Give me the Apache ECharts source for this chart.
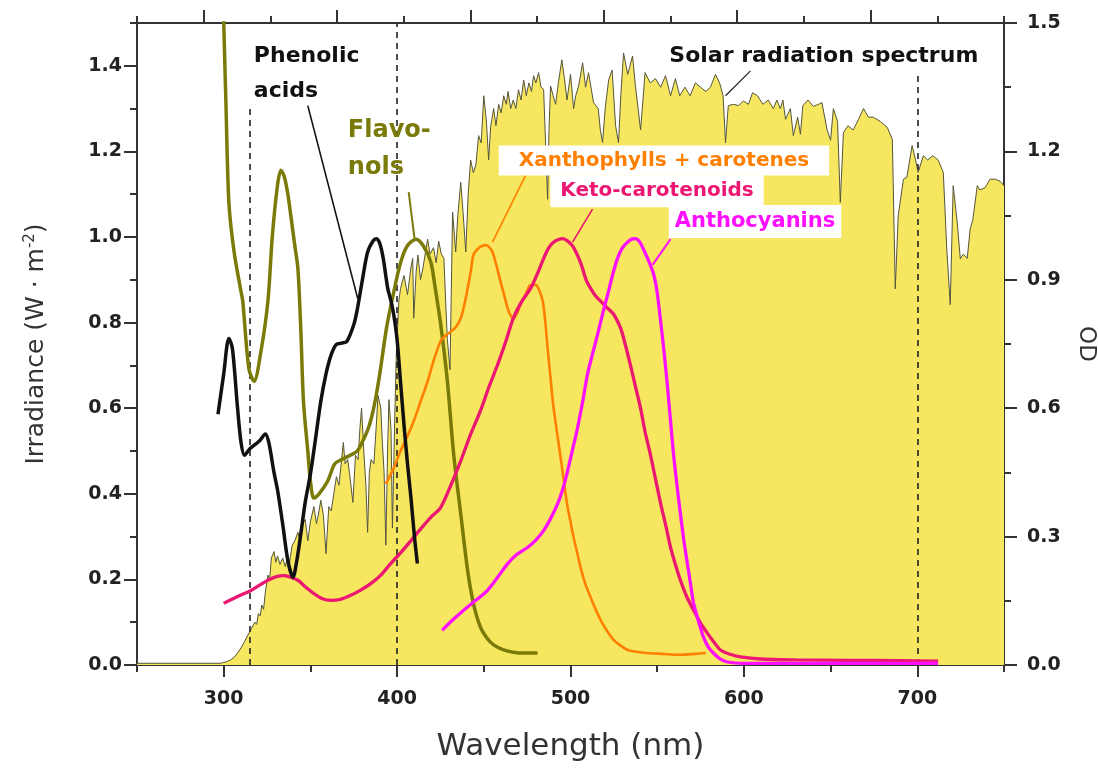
<!DOCTYPE html>
<html><head><meta charset="utf-8">
<script src="https://cdn.jsdelivr.net/npm/echarts@6/dist/echarts.min.js"></script>
<style>html,body{margin:0;padding:0;background:#fff}#c{width:1098px;height:772px}</style>
</head><body><div id="c"></div>
<script>
// ---- data (wavelength nm, value) ----
const solarSpectrum = [[250,0.004],[298,0.004],[300,0.006],[302,0.008],[304,0.012],[306,0.018],[308,0.028],[310,0.04],[312,0.055],[314,0.07],[316,0.085],[318,0.10],[319,0.095],[320,0.12],[321,0.115],[322,0.14],[323,0.13],[324,0.17],[325.5,0.21],[326.5,0.2],[327.5,0.25],[329,0.265],[330,0.24],[331,0.255],[332.5,0.235],[334,0.25],[335.5,0.23],[337,0.255],[338,0.24],[339.5,0.28],[341,0.29],[342.8,0.31],[344,0.29],[345.5,0.33],[347,0.34],[348.5,0.29],[350,0.335],[352,0.37],[353.5,0.33],[355,0.36],[356,0.385],[357.5,0.35],[359,0.26],[360.6,0.37],[362,0.36],[363.5,0.40],[365,0.44],[366.5,0.42],[367.5,0.46],[369,0.52],[370,0.47],[371.5,0.48],[372.5,0.45],[374.5,0.38],[376,0.49],[377.5,0.48],[378.5,0.55],[379.5,0.60],[380.8,0.50],[382,0.42],[383,0.31],[384,0.45],[385,0.48],[386.6,0.47],[388,0.56],[389,0.63],[390.6,0.60],[391.5,0.52],[392.5,0.45],[393.5,0.28],[394.5,0.5],[395.3,0.62],[396.5,0.55],[397.3,0.32],[398.5,0.55],[399.5,0.72],[401,0.85],[402,0.88],[404,0.91],[406,0.865],[408,0.93],[409,0.95],[409.6,0.81],[411,0.92],[412,0.958],[413.5,0.90],[415,0.93],[417.6,0.995],[419,0.96],[421,0.975],[422.5,0.94],[424,0.99],[425.5,0.96],[427,0.95],[428,0.85],[429,0.76],[430.5,0.69],[432,1.058],[433.8,0.965],[435,1.05],[436.7,1.128],[438,1.06],[439.6,0.965],[441,1.10],[442.4,1.18],[444,1.15],[445.5,1.17],[447,1.237],[448.5,1.22],[450,1.33],[451.5,1.27],[452.8,1.18],[454,1.26],[455.7,1.30],[457,1.26],[458.6,1.31],[460,1.29],[461.5,1.33],[463,1.31],[464,1.34],[465.5,1.30],[467,1.32],[468.5,1.30],[470,1.344],[471.5,1.32],[473,1.367],[474.5,1.33],[476,1.36],[477.5,1.34],[478.7,1.377],[480,1.36],[481.6,1.384],[483,1.35],[484.5,1.345],[485.8,1.2],[486.8,1.088],[487.6,1.25],[488.5,1.353],[490,1.33],[491.4,1.31],[493,1.36],[495,1.414],[496.5,1.37],[498,1.32],[500,1.38],[501.8,1.30],[503,1.33],[504.7,1.353],[507,1.407],[508.7,1.35],[510.4,1.384],[513.3,1.314],[516,1.30],[517.2,1.25],[518.5,1.221],[520,1.30],[522,1.367],[524,1.39],[526,1.26],[527.7,1.22],[529,1.33],[530.6,1.43],[533,1.38],[535.8,1.423],[537.5,1.35],[539,1.30],[540.4,1.25],[541.8,1.32],[543,1.384],[546,1.36],[549,1.37],[552,1.35],[554.8,1.377],[557.7,1.33],[560.5,1.37],[563,1.33],[566,1.35],[569,1.33],[572,1.36],[575,1.35],[578,1.34],[580.7,1.35],[583.6,1.38],[586,1.36],[588,1.33],[589.4,1.22],[591,1.307],[594,1.31],[597,1.307],[599.7,1.318],[602.6,1.31],[605,1.337],[607.8,1.33],[611,1.31],[614,1.32],[617,1.30],[619,1.32],[621,1.30],[622.5,1.32],[624,1.275],[626.8,1.30],[628.5,1.237],[631,1.28],[632.6,1.24],[634,1.307],[637,1.32],[640,1.305],[643,1.31],[645,1.314],[648,1.25],[650,1.226],[651.6,1.30],[654,1.27],[655.6,1.081],[657.4,1.244],[660,1.26],[663,1.25],[666,1.274],[669,1.30],[671.8,1.28],[674.6,1.28],[678.7,1.27],[682.7,1.256],[685.6,1.228],[687.3,0.879],[689,1.05],[692,1.135],[694,1.14],[697,1.214],[699,1.18],[700.5,1.151],[703.5,1.19],[706,1.18],[709,1.19],[712,1.18],[715,1.151],[717,0.972],[719,0.842],[720.7,1.12],[723,1.035],[724.8,0.949],[726.5,0.96],[728.8,0.95],[730.5,1.019],[732,1.04],[734.6,1.12],[736,1.11],[739,1.115],[742,1.135],[745,1.135],[747.8,1.13],[750,1.12]];

const phenolicAcids = [[296.7,0.586],[300,0.68],[303,0.763],[305,0.74],[308,0.6],[310,0.52],[312,0.49],[315,0.505],[318,0.515],[321,0.525],[324,0.54],[326,0.52],[329,0.45],[331,0.41],[334,0.33],[337,0.244],[340,0.205],[342,0.24],[344.5,0.307],[347,0.38],[350,0.446],[353,0.53],[356,0.616],[359,0.68],[362,0.725],[365,0.749],[368,0.752],[371,0.756],[375,0.795],[377,0.83],[380,0.9],[383,0.965],[386,0.99],[388,0.996],[390,0.985],[392,0.95],[394.6,0.88],[396.5,0.85],[398,0.82],[400,0.76],[402,0.66],[404,0.56],[406,0.47],[408,0.39],[410,0.30],[411.7,0.237]];

const flavonols = [[299.7,1.55],[301.3,1.31],[303,1.08],[306,0.965],[310,0.872],[311,0.85],[314.5,0.693],[317.5,0.663],[321.5,0.733],[325.5,0.85],[328,1.0],[331,1.12],[333,1.156],[335,1.14],[337,1.10],[338.7,1.05],[341,0.98],[342.8,0.926],[344.5,0.78],[346,0.616],[348.5,0.50],[350,0.43],[352,0.39],[355,0.40],[360,0.43],[364,0.47],[368,0.48],[373,0.49],[377,0.50],[381,0.53],[384,0.56],[387,0.61],[390,0.68],[394,0.79],[398,0.87],[402,0.94],[406,0.98],[411,0.995],[415,0.98],[419.4,0.942],[422,0.88],[425,0.80],[429,0.663],[432.6,0.493],[436.7,0.353],[440.7,0.22],[444,0.144],[448,0.089],[452,0.062],[455.7,0.047],[461,0.036],[467,0.03],[474,0.028],[481,0.028]];

const xanthophyllsCarotenes = [[393.5,0.423],[398,0.46],[402,0.50],[406,0.535],[409.6,0.57],[413.5,0.615],[417.6,0.663],[421,0.71],[425,0.756],[428,0.77],[431,0.779],[434,0.79],[436.7,0.81],[438.7,0.84],[440.7,0.88],[442.5,0.92],[444,0.958],[446,0.97],[448,0.977],[451,0.981],[453,0.977],[455,0.965],[457.5,0.93],[459.7,0.895],[462,0.86],[464.4,0.826],[467,0.81],[469,0.82],[471,0.84],[474,0.865],[477,0.888],[480,0.888],[482,0.875],[484,0.85],[485.5,0.80],[486.8,0.74],[488.5,0.67],[490,0.609],[492,0.55],[494,0.493],[496,0.435],[498,0.377],[500,0.335],[501.8,0.298],[504,0.26],[505.8,0.228],[508.5,0.19],[511.6,0.158],[514.5,0.13],[517.4,0.105],[521,0.08],[525,0.058],[529,0.045],[533,0.035],[538,0.031],[544,0.028],[553,0.026],[563,0.024],[572,0.026],[578,0.028]];

const ketoCarotenoids = [[300,0.144],[308,0.16],[315.7,0.174],[320,0.185],[325.5,0.198],[330,0.206],[334.7,0.209],[338,0.206],[342.8,0.198],[347,0.183],[352,0.167],[357,0.155],[361.8,0.151],[367,0.153],[373.3,0.163],[379,0.175],[384.8,0.19],[390.6,0.21],[396.3,0.237],[402,0.262],[407.9,0.29],[413,0.315],[419.4,0.345],[425,0.367],[431,0.42],[436.7,0.477],[442,0.535],[448,0.593],[453,0.65],[458,0.702],[463,0.76],[467,0.81],[472,0.85],[477,0.88],[481,0.915],[484.5,0.95],[487.5,0.975],[490.3,0.988],[495.4,0.996],[501,0.98],[505.8,0.94],[509,0.90],[511.6,0.88],[514.5,0.862],[517.4,0.85],[521,0.835],[524.8,0.82],[528.9,0.787],[531.5,0.75],[534.6,0.70],[537.5,0.65],[540.4,0.60],[543,0.545],[546,0.493],[549,0.435],[552,0.377],[555,0.325],[557.7,0.275],[560.5,0.235],[563.4,0.198],[567,0.16],[571,0.128],[575,0.098],[579,0.074],[583,0.052],[586.5,0.035],[592,0.025],[598,0.019],[609.5,0.014],[630,0.012],[660,0.011],[690,0.01],[712,0.009]];

const anthocyanins = [[426,0.081],[432,0.105],[438.4,0.128],[445,0.15],[452,0.174],[458,0.205],[463.8,0.237],[469,0.258],[475,0.274],[480,0.292],[484.5,0.314],[488.5,0.342],[492.6,0.377],[495.5,0.41],[498.3,0.453],[501,0.50],[504,0.553],[507,0.615],[509.8,0.679],[512.7,0.727],[515.6,0.772],[518.5,0.82],[521.4,0.865],[524.2,0.91],[527,0.949],[530,0.975],[532.9,0.988],[535.2,0.995],[537.5,0.996],[540,0.988],[542,0.972],[545,0.945],[548,0.912],[550,0.87],[552,0.802],[554,0.73],[556,0.647],[557.7,0.57],[559.4,0.493],[561.4,0.42],[563.4,0.353],[565.4,0.29],[567.4,0.237],[569.2,0.19],[571,0.144],[574,0.10],[576.7,0.065],[579.5,0.042],[582.4,0.028],[586,0.015],[590.5,0.007],[600,0.004],[650,0.004],[712,0.004]];

// leader lines from labels to curves
const phenolicLeader = [[348.5,1.307],[377.3,0.856]];
const flavonolLeader = [[406.7,1.105],[410.1,0.995]];
const xanthoLeader = [[474.1,1.144],[455,0.988]];
const ketoLeader = [[512.7,1.065],[501.2,0.988]];
const anthoLeader = [[557.7,0.995],[547.3,0.935]];
const solarLeader = [[603.8,1.388],[589.4,1.33]];

// dashed band boundaries (nm) and their top values
const bandBoundaries = [315, 400, 700];
const bandBoundaryTops = [1.30, 1.5, 1.386];

// ticks
const xMajorTicks = [300, 400, 500, 600, 700];
const topMajorTicks = [1, 3, 5, 7, 9, 11];
const yLeftTicks = [0, 0.2, 0.4, 0.6, 0.8, 1.0, 1.2, 1.4];
const yRightTicks = [0, 0.3, 0.6, 0.9, 1.2, 1.5];

const FONT = '"DejaVu Sans", "Liberation Sans", Arial, sans-serif';
const AX = '#333';

const C_OLIVE = '#7a7a08', C_ORANGE = '#ff7f00', C_KETO = '#ec1773', C_MAG = '#ff10ff';

function lineSeries(data, color, width, z, smooth) {
  return { type: 'line', data: data, xAxisIndex: 0, yAxisIndex: 0, symbol: 'none', smooth: smooth,
    lineStyle: { color: color, width: width }, z: z, silent: true, animation: false };
}

const axisLineStyle = { show: true, lineStyle: { color: AX, width: 2 } };
const tickStyle = { color: AX, width: 2 };
const tickLabel = { fontFamily: FONT, fontWeight: 'bold', fontSize: 19, color: '#222' };

const option = {
  backgroundColor: '#fff',
  animation: false,
  grid: { left: 137, right: 94, top: 23, bottom: 107, containLabel: false, outerBoundsMode: 'none' },
  xAxis: [
    { type: 'value', min: 250, max: 750, interval: 50, position: 'bottom',
      axisLine: Object.assign({ onZero: false }, axisLineStyle),
      axisTick: { length: 7, lineStyle: tickStyle }, axisLabel: { show: false }, splitLine: { show: false } },
    { type: 'value', min: 250, max: 750, position: 'bottom',
      axisLine: { show: false, onZero: false },
      axisTick: { length: 12, customValues: xMajorTicks, lineStyle: tickStyle },
      axisLabel: Object.assign({ customValues: xMajorTicks, margin: 25, formatter: v => String(v) }, tickLabel),
      splitLine: { show: false },
      name: 'Wavelength (nm)', nameLocation: 'middle', nameGap: 66,
      nameTextStyle: { fontFamily: FONT, fontSize: 31, color: '#333' } },
    { type: 'value', min: 0, max: 13, interval: 1, position: 'top',
      axisLine: Object.assign({ onZero: false }, axisLineStyle),
      axisTick: { length: 7, lineStyle: tickStyle }, axisLabel: { show: false }, splitLine: { show: false } },
    { type: 'value', min: 0, max: 13, position: 'top',
      axisLine: { show: false, onZero: false },
      axisTick: { length: 13, customValues: topMajorTicks, lineStyle: tickStyle },
      axisLabel: { show: false }, splitLine: { show: false } }
  ],
  yAxis: [
    { type: 'value', min: 0, max: 1.5, interval: 0.1, position: 'left',
      axisLine: Object.assign({ onZero: false }, axisLineStyle),
      axisTick: { length: 7, lineStyle: tickStyle }, axisLabel: { show: false }, splitLine: { show: false } },
    { type: 'value', min: 0, max: 1.5, position: 'left',
      axisLine: { show: false, onZero: false },
      axisTick: { length: 13, customValues: yLeftTicks, lineStyle: tickStyle },
      axisLabel: Object.assign({ customValues: yLeftTicks, margin: 15, formatter: v => v.toFixed(1) }, tickLabel),
      splitLine: { show: false },
      name: 'Irradiance (W · m{sup|-2})', nameLocation: 'middle', nameGap: 87, nameRotate: 90,
      nameTextStyle: { fontFamily: FONT, fontSize: 25, color: '#333',
        rich: { sup: { fontFamily: FONT, fontSize: 15, color: '#333', padding: [0, 0, 12, 0] } } } },
    { type: 'value', min: 0, max: 1.5, interval: 0.15, position: 'right',
      axisLine: Object.assign({ onZero: false }, axisLineStyle),
      axisTick: { length: 7, lineStyle: tickStyle }, axisLabel: { show: false }, splitLine: { show: false } },
    { type: 'value', min: 0, max: 1.5, position: 'right',
      axisLine: { show: false, onZero: false },
      axisTick: { length: 13, customValues: yRightTicks, lineStyle: tickStyle },
      axisLabel: Object.assign({ customValues: yRightTicks, margin: 23, formatter: v => v.toFixed(1) }, tickLabel),
      splitLine: { show: false },
      name: 'OD', nameLocation: 'middle', nameGap: 70, nameRotate: -90,
      nameTextStyle: { fontFamily: FONT, fontSize: 23, color: '#333' } }
  ],
  series: [
    { type: 'line', name: 'Solar radiation spectrum', data: solarSpectrum, xAxisIndex: 0, yAxisIndex: 0,
      symbol: 'none', smooth: false, z: 1, silent: true,
      lineStyle: { color: '#55553a', width: 1 },
      areaStyle: { color: '#f6e660', opacity: 1 } },
    { type: 'line', name: 'bands', data: [], xAxisIndex: 0, yAxisIndex: 0, z: 3, silent: true,
      markLine: { silent: true, symbol: ['none', 'none'], label: { show: false }, animation: false,
        lineStyle: { type: [6, 5], color: '#222', width: 1.6 },
        data: bandBoundaries.map((b, i) => [{ coord: [b, 0] }, { coord: [b, bandBoundaryTops[i]] }]) } },
    lineSeries(flavonols, C_OLIVE, 3.5, 5, 0.3),
    lineSeries(phenolicAcids, '#111', 3.5, 6, 0.3),
    lineSeries(xanthophyllsCarotenes, C_ORANGE, 2.6, 5, 0.3),
    lineSeries(ketoCarotenoids, C_KETO, 3.3, 5, 0.3),
    lineSeries(anthocyanins, C_MAG, 3.3, 5, 0.3),
    lineSeries(phenolicLeader, '#111', 1.6, 7, false),
    lineSeries(flavonolLeader, C_OLIVE, 2, 7, false),
    lineSeries(xanthoLeader, C_ORANGE, 1.6, 7, false),
    lineSeries(ketoLeader, C_KETO, 1.6, 7, false),
    lineSeries(anthoLeader, C_MAG, 2, 7, false),
    lineSeries(solarLeader, '#222', 1.2, 7, false)
  ]
};

const chart = echarts.init(document.getElementById('c'), null, { renderer: 'canvas' });
chart.setOption(option);

// text annotations anchored in data coordinates
const annotations = [
  { text: 'Phenolic\nacids', at: [317.4, 1.463], color: '#111', size: 22, align: 'left', vAlign: 'top', lh: 35 },
  { text: 'Flavo-\nnols', at: [371.6, 1.291], color: C_OLIVE, size: 24, align: 'left', vAlign: 'top', lh: 37 },
  { text: 'Xanthophylls + carotenes', at: [553.9, 1.179], color: C_ORANGE, size: 20, align: 'center', vAlign: 'middle', lh: 20, bg: '#fff', pad: [5, 20] },
  { text: 'Keto-carotenoids', at: [549.9, 1.107], color: C_KETO, size: 20, align: 'center', vAlign: 'middle', lh: 20, bg: '#fff', pad: [6, 10] },
  { text: 'Anthocyanins', at: [606.4, 1.036], color: C_MAG, size: 21, align: 'center', vAlign: 'middle', lh: 21, bg: '#fff', pad: [6, 6] },
  { text: 'Solar radiation spectrum', at: [646.1, 1.423], color: '#111', size: 22, align: 'center', vAlign: 'middle', lh: 22 }
];
const graphics = annotations.map(a => {
  const p = chart.convertToPixel({ seriesIndex: 0 }, a.at);
  const style = { text: a.text, fill: a.color, fontFamily: FONT, fontWeight: 'bold', fontSize: a.size,
    align: a.align, verticalAlign: a.vAlign, lineHeight: a.lh };
  if (a.bg) { style.backgroundColor = a.bg; style.padding = a.pad; }
  return { type: 'text', x: p[0], y: p[1], z: 100, silent: true, style: style };
});
chart.setOption({ graphic: graphics });
</script>
</body></html>
